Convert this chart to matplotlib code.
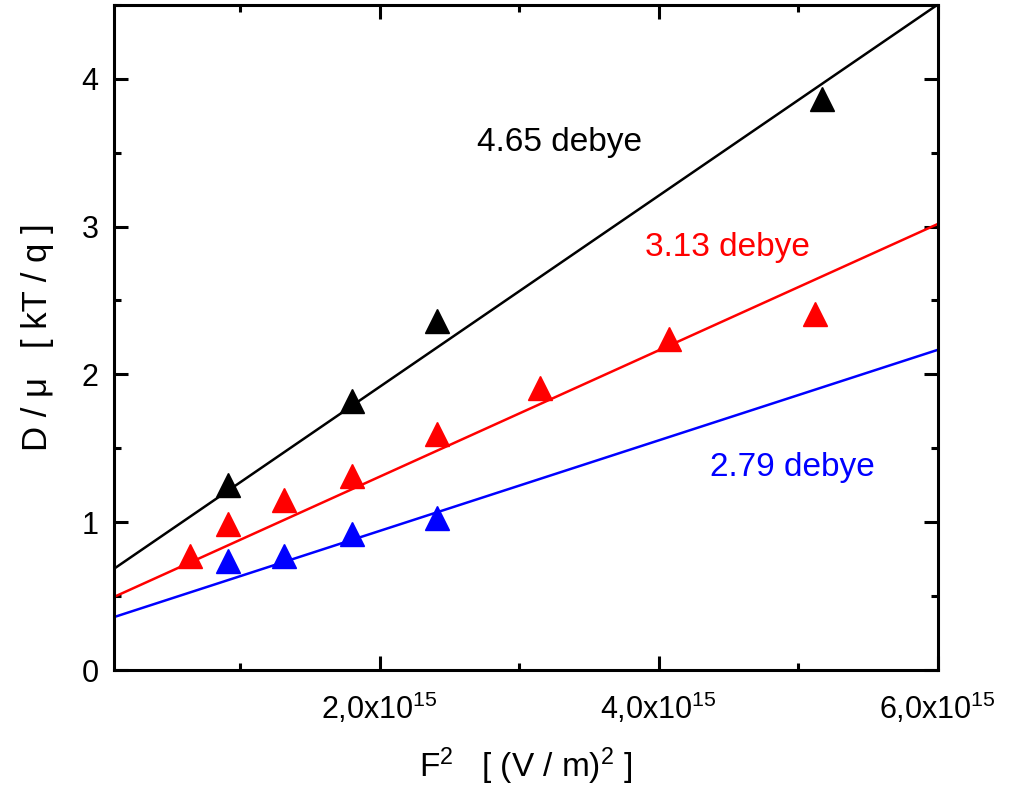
import numpy as np
import matplotlib
matplotlib.use("Agg")
import matplotlib.pyplot as plt
from matplotlib.ticker import MultipleLocator, FixedLocator

plt.rcParams["font.family"] = ["Liberation Sans", "DejaVu Sans"]
plt.rcParams["mathtext.fontset"] = "custom"
plt.rcParams["mathtext.rm"] = "Liberation Sans"
plt.rcParams["mathtext.it"] = "Liberation Sans:italic"

# data, x in units of 1e15 (V/m)^2, y in kT/q
black_x = [0.914, 1.80, 2.41, 5.17]
black_y = [1.25, 1.82, 2.36, 3.86]
red_x = [0.64, 0.914, 1.31, 1.80, 2.41, 3.15, 4.07, 5.12]
red_y = [0.77, 0.99, 1.15, 1.31, 1.60, 1.91, 2.24, 2.41]
blue_x = [0.914, 1.31, 1.80, 2.41]
blue_y = [0.74, 0.77, 0.92, 1.03]

# linear fits: intercept, slope (per 1e15)
black_fit = (0.625, 0.646)
red_fit = (0.455, 0.427)
blue_fit = (0.33, 0.306)

labels = ["4.65 debye", "3.13 debye", "2.79 debye"]
label_pos = [(3.29, 3.51), (4.49, 2.80), (4.96, 1.31)]
colors = ["black", "red", "blue"]
xticklabels = ["2,0x10$^{15}$", "4,0x10$^{15}$", "6,0x10$^{15}$"]

XMIN, XMAX = 0.093, 6.0

fig = plt.figure(figsize=(10.17, 7.94), dpi=100)
ax = fig.add_axes([0.112, 0.156, 0.810, 0.838])

xs = np.linspace(XMIN, XMAX, 50)
series = [(black_x, black_y, black_fit), (red_x, red_y, red_fit), (blue_x, blue_y, blue_fit)]
for (sx, sy, fit), c in zip(series, colors):
    b, m = fit
    ax.plot(xs, b + m * xs, color=c, lw=1.8, zorder=2)
    ax.plot(sx, sy, "^", color=c, ms=17, mec=c, zorder=3, clip_on=False)

for txt, (tx, ty), c in zip(labels, label_pos, colors):
    ax.text(tx, ty, txt, color=c, fontsize=24, ha="center", va="baseline")

ax.set_xlim(XMIN, XMAX)
ax.set_ylim(0, 4.5)
ax.xaxis.set_major_locator(FixedLocator([2, 4, 6]))
ax.xaxis.set_minor_locator(FixedLocator([1, 3, 5]))
ax.set_xticklabels(xticklabels)
ax.yaxis.set_major_locator(MultipleLocator(1))
ax.yaxis.set_minor_locator(MultipleLocator(0.5))

ax.tick_params(which="both", direction="in", top=True, right=True, width=2.2, labelsize=22)
ax.tick_params(which="major", length=10)
ax.tick_params(which="minor", length=5)
ax.tick_params(axis="x", which="major", pad=15)
ax.tick_params(axis="y", which="major", pad=11)
for s in ax.spines.values():
    s.set_linewidth(2.2)

ax.set_xlabel("F$^2$   [ (V / m)$^2$ ]", fontsize=24, labelpad=14)
ax.set_ylabel("D / \u03bc   [ kT / q ]", fontsize=25, labelpad=20)

fig.savefig("out.png", dpi=100)
